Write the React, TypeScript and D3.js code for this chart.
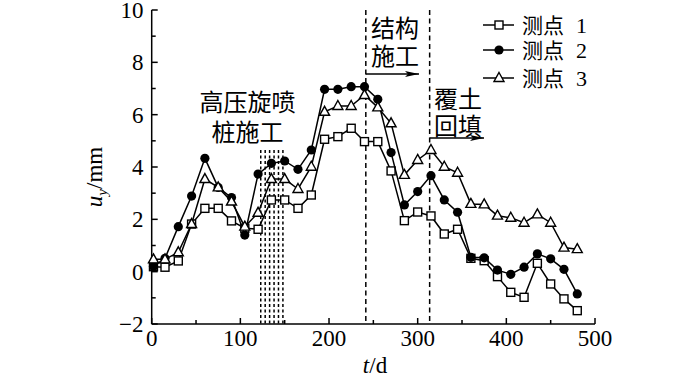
import React from "react";
import * as d3 from "d3";

const times = [2, 15, 30, 45, 60, 75, 90, 105, 120, 135, 150, 165, 180, 195, 210, 225, 240, 255, 270, 285, 300, 315, 330, 345, 360, 375, 390, 405, 420, 435, 450, 465, 480];
const point1 = [0.19, 0.17, 0.41, 1.82, 2.42, 2.42, 1.94, 1.66, 1.62, 2.74, 2.74, 2.42, 2.93, 5.06, 5.16, 5.48, 4.97, 4.97, 3.85, 1.95, 2.28, 2.13, 1.44, 1.62, 0.51, 0.42, -0.19, -0.79, -0.98, 0.32, -0.47, -1.04, -1.49];
const point2 = [0.2, 0.51, 1.72, 2.89, 4.33, 3.22, 2.83, 1.4, 3.73, 4.14, 4.23, 3.91, 4.65, 6.97, 6.97, 7.07, 7.07, 6.59, 4.55, 2.55, 3.06, 3.67, 2.74, 2.27, 0.55, 0.53, 0.06, -0.1, 0.17, 0.68, 0.49, 0.09, -0.85];
const point3 = [0.47, 0.47, 0.74, 1.82, 3.54, 3.22, 2.68, 1.72, 2.25, 3.54, 3.54, 3.16, 4.01, 6.11, 6.33, 6.33, 6.75, 6.28, 5.67, 3.7, 4.27, 4.65, 4.01, 3.78, 2.59, 2.57, 2.14, 2.06, 1.87, 2.19, 1.87, 0.92, 0.86];
const seriesNames = ["测点", "测点", "测点"];
const seriesIds = ["1", "2", "3"];
const xTicks = [0, 100, 200, 300, 400, 500];
const yTicks = [-2, 0, 2, 4, 6, 8, 10];
const jetGroutLines = [123, 128, 133, 138, 143, 148];
const jetGroutTop = 4.65;
const stageLines = [241.5, 313.5];

const FONT = "'Liberation Serif', 'Noto Sans CJK SC', serif";
const CJK = "'Noto Sans CJK SC', sans-serif";

export default function App() {
  const x = d3.scaleLinear().domain([0, 500]).range([151.7, 595]);
  const y = d3.scaleLinear().domain([-2, 10]).range([324, 10]);
  const line = d3
    .line<number>()
    .x((_, i) => x(times[i]))
    .y((d) => y(d));
  const all = [point1, point2, point3];

  const marker = (k: number, cx: number, cy: number, key: string) => {
    if (k === 0)
      return <rect key={key} x={cx - 4} y={cy - 4} width={8} height={8} fill="#fff" stroke="#000" strokeWidth={1.4} />;
    if (k === 1) return <circle key={key} cx={cx} cy={cy} r={4.6} fill="#000" />;
    return (
      <path
        key={key}
        d={`M${cx},${cy - 5.5}L${cx + 5},${cy + 3.5}L${cx - 5},${cy + 3.5}Z`}
        fill="#fff"
        stroke="#000"
        strokeWidth={1.4}
      />
    );
  };

  const minorX = d3.range(50, 500, 100);
  const minorY = d3.range(-1, 10, 2);

  return (
    <svg width={700} height={376} style={{ position: "absolute", left: 0, top: 0, background: "#fff" }}>
      <defs>
        <marker id="arr" viewBox="0 0 14 6" refX={14} refY={3} markerWidth={14} markerHeight={6} markerUnits="userSpaceOnUse" orient="auto">
          <path d="M0,0L14,3L0,6L3,3Z" fill="#000" />
        </marker>
      </defs>

      {jetGroutLines.map((t, i) => (
        <line key={"jg" + i} x1={x(t)} x2={x(t)} y1={y(jetGroutTop)} y2={y(-2)} stroke="#000" strokeWidth={1.5} strokeDasharray="3,2.5" />
      ))}
      {stageLines.map((t, i) => (
        <line key={"st" + i} x1={x(t)} x2={x(t)} y1={y(10)} y2={y(-2)} stroke="#000" strokeWidth={1.5} strokeDasharray="5,3.5" />
      ))}

      <line x1={x(0)} x2={x(0)} y1={y(10)} y2={y(-2)} stroke="#000" strokeWidth={1.5} />
      <line x1={x(0)} x2={x(500)} y1={y(-2)} y2={y(-2)} stroke="#000" strokeWidth={1.5} />
      {xTicks.map((t) => (
        <g key={"xt" + t}>
          <line x1={x(t)} x2={x(t)} y1={y(-2)} y2={y(-2) - 6} stroke="#000" strokeWidth={1.5} />
          <text x={x(t)} y={346} textAnchor="middle" fontFamily={FONT} fontSize={23}>
            {t}
          </text>
        </g>
      ))}
      {minorX.map((t) => (
        <line key={"xm" + t} x1={x(t)} x2={x(t)} y1={y(-2)} y2={y(-2) - 4} stroke="#000" strokeWidth={1.5} />
      ))}
      {yTicks.map((v) => (
        <g key={"yt" + v}>
          <line x1={x(0)} x2={x(0) + 6} y1={y(v)} y2={y(v)} stroke="#000" strokeWidth={1.5} />
          <text x={143.5} y={y(v) + 8} textAnchor="end" fontFamily={FONT} fontSize={23}>
            {v < 0 ? "\u2212" + Math.abs(v) : v}
          </text>
        </g>
      ))}
      {minorY.map((v) => (
        <line key={"ym" + v} x1={x(0)} x2={x(0) + 4} y1={y(v)} y2={y(v)} stroke="#000" strokeWidth={1.5} />
      ))}

      <text transform="translate(102,177) rotate(-90)" textAnchor="middle" fontFamily={FONT} fontSize={23}>
        <tspan fontStyle="italic">u</tspan>
        <tspan fontStyle="italic" fontSize={15} dy={5}>y</tspan>
        <tspan dy={-5}>/mm</tspan>
      </text>
      <text x={375} y={373} textAnchor="middle" fontFamily={FONT} fontSize={23}>
        <tspan fontStyle="italic">t</tspan>/d
      </text>

      {all.map((s, k) => (
        <g key={"s" + k}>
          <path d={line(s) || ""} fill="none" stroke="#000" strokeWidth={1.5} />
          {s.map((v, i) => marker(k, x(times[i]), y(v), `m${k}-${i}`))}
        </g>
      ))}

      <text x={247.5} y={111} textAnchor="middle" fontFamily={CJK} fontSize={24}>高压旋喷</text>
      <text x={247.5} y={141} textAnchor="middle" fontFamily={CJK} fontSize={24}>桩施工</text>
      <text x={371} y={37} fontFamily={CJK} fontSize={24}>结构</text>
      <text x={371} y={65} fontFamily={CJK} fontSize={24}>施工</text>
      <line x1={x(stageLines[0])} x2={419} y1={74} y2={74} stroke="#000" strokeWidth={1.5} markerEnd="url(#arr)" />
      <text x={434} y={108} fontFamily={CJK} fontSize={24}>覆土</text>
      <text x={434} y={135} fontFamily={CJK} fontSize={24}>回填</text>
      <line x1={x(stageLines[1])} x2={484} y1={138} y2={138} stroke="#000" strokeWidth={1.5} markerEnd="url(#arr)" />

      {seriesNames.map((n, k) => {
        const ly = [25, 50, 78][k];
        return (
          <g key={"lg" + k}>
            <line x1={483} x2={514} y1={ly} y2={ly} stroke="#000" strokeWidth={1.5} />
            {marker(k, 499, ly, "lm" + k)}
            <text x={522} y={ly + 8} fontFamily={CJK} fontSize={21}>
              {n}
            </text>
            <text x={576} y={ly + 8} fontFamily={FONT} fontSize={22}>
              {seriesIds[k]}
            </text>
          </g>
        );
      })}
    </svg>
  );
}
